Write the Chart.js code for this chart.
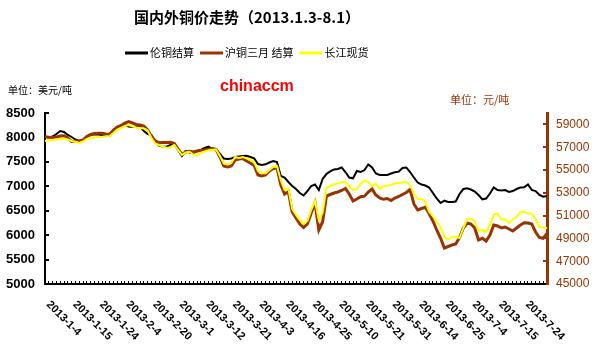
<!DOCTYPE html>
<html>
<head>
<meta charset="utf-8">
<script src="https://cdn.jsdelivr.net/npm/chart.js@4"></script>
<style>
  html, body { margin: 0; padding: 0; background: #fff; }
  #wrap { width: 610px; height: 351px; }
</style>
</head>
<body>
<div id="wrap"><canvas id="copperChart" width="610" height="351"></canvas></div>
<script>
const titleText = '国内外铜价走势（2013.1.3-8.1）';
const seriesNames = ['伦铜结算', '沪铜三月 结算', '长江现货'];
const labelEvery = 7;

const dates = [
  '2013-1-4','2013-1-7','2013-1-8','2013-1-9','2013-1-10','2013-1-11','2013-1-14','2013-1-15','2013-1-16','2013-1-17',
  '2013-1-18','2013-1-21','2013-1-22','2013-1-23','2013-1-24','2013-1-25','2013-1-28','2013-1-29','2013-1-30','2013-1-31',
  '2013-2-1','2013-2-4','2013-2-5','2013-2-6','2013-2-7','2013-2-8','2013-2-18','2013-2-19','2013-2-20','2013-2-21',
  '2013-2-22','2013-2-25','2013-2-26','2013-2-27','2013-2-28','2013-3-1','2013-3-4','2013-3-5','2013-3-6','2013-3-7',
  '2013-3-8','2013-3-11','2013-3-12','2013-3-13','2013-3-14','2013-3-15','2013-3-18','2013-3-19','2013-3-20','2013-3-21',
  '2013-3-22','2013-3-25','2013-3-26','2013-3-27','2013-3-28','2013-4-2','2013-4-3','2013-4-8','2013-4-9','2013-4-10',
  '2013-4-11','2013-4-12','2013-4-15','2013-4-16','2013-4-17','2013-4-18','2013-4-19','2013-4-22','2013-4-23','2013-4-24',
  '2013-4-25','2013-4-26','2013-5-2','2013-5-3','2013-5-7','2013-5-8','2013-5-9','2013-5-10','2013-5-13','2013-5-14',
  '2013-5-15','2013-5-16','2013-5-17','2013-5-20','2013-5-21','2013-5-22','2013-5-23','2013-5-24','2013-5-28','2013-5-29',
  '2013-5-30','2013-5-31','2013-6-3','2013-6-4','2013-6-5','2013-6-6','2013-6-7','2013-6-13','2013-6-14','2013-6-17',
  '2013-6-18','2013-6-19','2013-6-20','2013-6-21','2013-6-24','2013-6-25','2013-6-26','2013-6-27','2013-6-28','2013-7-1',
  '2013-7-2','2013-7-3','2013-7-4','2013-7-5','2013-7-8','2013-7-9','2013-7-10','2013-7-11','2013-7-12','2013-7-15',
  '2013-7-16','2013-7-17','2013-7-18','2013-7-19','2013-7-22','2013-7-23','2013-7-24','2013-7-25','2013-7-26','2013-7-29',
  '2013-7-30','2013-7-31','2013-8-1'
];

// LME settlement, USD/t (left axis)
const lmeSettle = [
  8015,7998,8019,8070,8131,8111,8050,8009,7958,7927,
  7947,8019,8050,8064,8060,8050,8040,8029,8152,8213,
  8244,8254,8224,8213,8220,8224,8132,8070,8050,7906,
  7835,7814,7810,7845,7859,7743,7620,7722,7691,7681,
  7722,7743,7784,7810,7763,7757,7661,7569,7559,7569,
  7599,7610,7620,7624,7599,7573,7456,7436,7450,7487,
  7517,7497,7210,7180,7088,7006,6944,6862,6811,6903,
  7006,7037,6924,7149,7251,7303,7344,7354,7385,7292,
  7180,7163,7313,7292,7333,7446,7385,7262,7231,7231,
  7231,7262,7286,7299,7374,7385,7292,7180,7077,7037,
  7016,6975,6862,6750,6658,6705,6678,6678,6689,6842,
  6944,6958,6934,6893,6821,6733,6750,6852,6975,6924,
  6914,6924,6883,6903,6944,6975,6979,7037,6924,6903,
  6821,6787,6801
];

// SHFE 3-month settlement, CNY/t (right axis)
const shfeSettle = [
  57921,57877,57851,57895,57982,58009,57807,57500,57544,57544,
  57632,57939,58114,58202,58219,58219,58158,58132,58509,58772,
  58904,59123,59254,59123,58991,58947,58860,58509,57939,57544,
  57395,57412,57412,57430,57325,56842,56360,56579,56640,56579,
  56667,56711,56754,56842,56886,56798,56140,55351,55263,55351,
  55877,55965,56009,55789,55614,55395,54561,54474,54561,54912,
  55132,55175,53700,52895,53096,51316,50790,50263,49956,50263,
  51228,52105,49737,50465,52719,52851,52982,53070,53202,53377,
  52895,52281,52456,52658,52702,53070,53333,52807,52544,52430,
  52500,52325,52544,52675,52851,53026,53289,52018,51491,51623,
  51728,51184,50526,49737,49035,48158,48290,48421,48509,49079,
  49912,50351,50263,49912,48860,49009,48772,49298,50175,50088,
  49912,50000,49825,49649,49912,50175,50377,50351,50263,49561,
  49079,49009,49430
];

// Changjiang spot, CNY/t (right axis)
const cjSpot = [
  57544,57588,57632,57675,57719,57763,57675,57544,57482,57368,
  57500,57719,57807,57851,57895,57921,57956,57982,58246,58553,
  58684,58860,58947,58816,58728,58684,58640,58465,57807,57325,
  57193,57061,56930,57018,57193,56754,56316,56535,56605,56360,
  56254,56517,56623,56728,56781,56798,56228,55570,55482,55614,
  56140,56053,56140,56026,55877,55702,54912,54710,54710,55000,
  55263,55351,54100,53246,53377,51579,51053,50614,50263,50526,
  51491,52281,50614,51228,53421,53596,53745,53815,53921,53973,
  53553,53246,53333,53772,54079,53947,53596,53815,53333,53570,
  53640,53684,53815,53859,53921,53965,53684,52895,52456,52456,
  52219,51342,50965,50439,50000,49123,48904,49123,49149,49035,
  49912,50702,50746,50482,49649,49737,49561,50175,51096,51184,
  50658,50658,50351,50658,50877,51316,51342,51184,51158,50702,
  50000,49974,49886
];

const rightTicks = [45000, 47000, 49000, 51000, 53000, 55000, 57000, 59000];

// titles, legend, units and slanted date labels
const textLayer = {
  id: 'textLayer',
  afterDraw(chart) {
    const ctx = chart.ctx;
    const xs = chart.scales.x;
    ctx.save();

    ctx.fillStyle = '#000';
    ctx.font = 'bold 15px "Noto Sans CJK SC"';
    ctx.textAlign = 'center';
    ctx.textBaseline = 'middle';
    ctx.fillText(titleText, 247, 17);

    // legend row
    ctx.font = '11px "Noto Sans CJK SC"';
    ctx.textAlign = 'left';
    let lx = 125;
    chart.data.datasets.forEach(ds => {
      ctx.strokeStyle = ds.borderColor;
      ctx.lineWidth = 3;
      ctx.beginPath();
      ctx.moveTo(lx, 53);
      ctx.lineTo(lx + 23, 53);
      ctx.stroke();
      ctx.fillStyle = '#000';
      ctx.fillText(ds.label, lx + 25, 53);
      lx += 25 + ctx.measureText(ds.label).width + 6;
    });

    ctx.font = '10px "Noto Sans CJK SC"';
    ctx.fillText('单位：美元/吨', 8, 90);

    ctx.fillStyle = '#993300';
    ctx.font = '11px "Noto Sans CJK SC"';
    ctx.fillText('单位：元/吨', 450, 100);

    ctx.fillStyle = '#ff0000';
    ctx.font = 'bold 16px "Liberation Sans"';
    ctx.fillText('chinaccm', 220, 87);

    ctx.fillStyle = '#000';
    ctx.font = 'bold 11px "Liberation Sans"';
    ctx.textBaseline = 'top';
    dates.forEach((d, i) => {
      if (i % labelEvery) return;
      const px = xs.getPixelForValue(i);
      ctx.save();
      ctx.translate(px + 7, 299);
      ctx.rotate(Math.PI / 4);
      ctx.fillText(d, 0, 0);
      ctx.restore();
    });
    ctx.restore();
  }
};

Chart.defaults.font.family = '"Liberation Sans", Arial, sans-serif';

const ctx = document.getElementById('copperChart').getContext('2d');
const copperChart = new Chart(ctx, {
  type: 'line',
  data: {
    labels: dates,
    datasets: [
      {
        label: seriesNames[0],
        data: lmeSettle,
        yAxisID: 'yUsd',
        borderColor: '#000000',
        borderWidth: 2,
        order: 3
      },
      {
        label: seriesNames[1],
        data: shfeSettle,
        yAxisID: 'yCny',
        borderColor: '#993300',
        borderWidth: 3,
        order: 2
      },
      {
        label: seriesNames[2],
        data: cjSpot,
        yAxisID: 'yCny',
        borderColor: '#ffff00',
        borderWidth: 2,
        order: 1
      }
    ]
  },
  options: {
    responsive: false,
    animation: false,
    layout: { padding: { top: 113, left: 0, right: 0, bottom: 0 } },
    elements: {
      point: { radius: 0 },
      line: { tension: 0 }
    },
    plugins: {
      legend: { display: false },
      title: { display: false },
      tooltip: { enabled: false }
    },
    scales: {
      x: {
        afterFit: s => { s.height = 67; },
        ticks: { display: false, autoSkip: false },
        grid: { drawOnChartArea: false, drawTicks: true, tickLength: -3, color: '#000', lineWidth: 1 },
        border: { display: true, color: '#000', width: 2 }
      },
      yUsd: {
        position: 'left',
        min: 5000,
        max: 8500,
        afterFit: s => { s.width = 45; },
        ticks: {
          stepSize: 500, color: '#000', padding: 14,
          font: { size: 13, weight: 'bold' },
          callback: v => String(v)
        },
        grid: { drawOnChartArea: false, drawTicks: true, tickLength: -4, color: '#000', lineWidth: 2 },
        border: { display: true, color: '#000', width: 2 }
      },
      yCny: {
        position: 'right',
        min: 45000,
        max: 60000,
        afterFit: s => { s.width = 63; },
        afterBuildTicks: s => { s.ticks = rightTicks.map(v => ({ value: v })); },
        ticks: {
          color: '#993300', padding: 13,
          font: { size: 12 },
          callback: v => String(v)
        },
        grid: { drawOnChartArea: false, drawTicks: true, tickLength: -4, color: '#993300', lineWidth: 2 },
        border: { display: true, color: '#993300', width: 3 }
      }
    }
  },
  plugins: [textLayer]
});
</script>
</body>
</html>
